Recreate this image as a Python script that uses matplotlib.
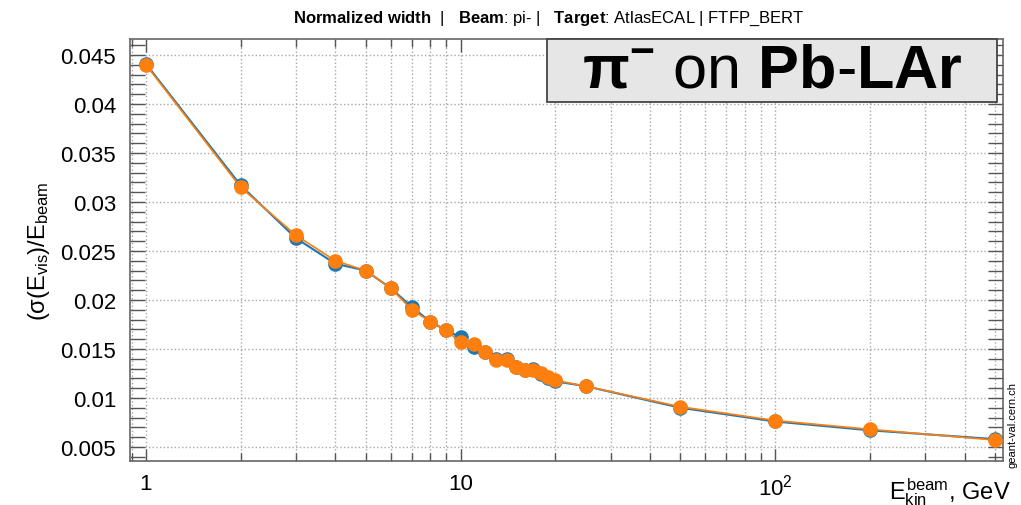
import matplotlib
matplotlib.use("Agg")
import matplotlib.pyplot as plt
from matplotlib.patches import Rectangle
from matplotlib.ticker import LogLocator, FixedLocator, MultipleLocator, FuncFormatter

plt.rcParams['font.family'] = ['Liberation Sans', 'DejaVu Sans']
plt.rcParams['mathtext.fontset'] = 'custom'
plt.rcParams['mathtext.rm'] = 'Liberation Sans'
plt.rcParams['mathtext.it'] = 'Liberation Sans'
plt.rcParams['mathtext.bf'] = 'Liberation Sans:bold'

# beam energies, GeV
energy = [1, 2, 3, 4, 5, 6, 7, 8, 9, 10, 11, 12, 13, 14, 15, 16, 17, 18, 19, 20,
          25, 50, 100, 200, 500]
# two series (blue drawn first, orange on top)
width_blue = [0.0441, 0.0317, 0.0263, 0.0237, 0.0230, 0.0212, 0.0193, 0.0178, 0.0169,
              0.0162, 0.0152, 0.0147, 0.0140, 0.0140, 0.0132, 0.0129, 0.0130, 0.0124,
              0.0120, 0.0117, 0.0112, 0.0090, 0.0076, 0.0067, 0.0058]
width_orange = [0.0440, 0.0315, 0.0266, 0.0240, 0.0230, 0.0212, 0.0190, 0.0178, 0.0169,
                0.0157, 0.0155, 0.0147, 0.0139, 0.0139, 0.0132, 0.0129, 0.0129, 0.0125,
                0.0121, 0.0118, 0.0112, 0.0091, 0.0077, 0.0068, 0.0057]
err_blue = [0.0003, 0.0001, 0.0001, 0.0001, 0.0001, 0.0001, 0.0001, 0.0001, 0.0001,
            0.0001, 0.0001, 0.0001, 0.0001, 0.0001, 0.0001, 0.0001, 0.0001, 0.0001,
            0.0001, 0.0001, 0.0001, 0.0001, 0.0001, 0.0001, 0.0001]
err_orange = [0.0003, 0.0001, 0.0001, 0.0001, 0.0001, 0.0001, 0.0001, 0.0001, 0.0001,
              0.0001, 0.0001, 0.0001, 0.0001, 0.0001, 0.0001, 0.0001, 0.0001, 0.0001,
              0.0001, 0.0001, 0.0001, 0.0001, 0.0001, 0.0001, 0.0001]
y_ticks = [0.005, 0.01, 0.015, 0.02, 0.025, 0.03, 0.035, 0.04, 0.045]
y_tick_labels = ['0.005', '0.01', '0.015', '0.02', '0.025', '0.03', '0.035', '0.04', '0.045']

fig = plt.figure(figsize=(10.21, 5.06), dpi=100)
ax = fig.add_axes([0.1273, 0.0870, 0.8551, 0.8339])

ax.errorbar(energy, width_blue, yerr=err_blue, color='#1f77b4', marker='o', ms=9.5,
            lw=1.5, elinewidth=1, capsize=0, zorder=3)
ax.errorbar(energy, width_orange, yerr=err_orange, color='#ff7f0e', marker='o', ms=9.5,
            lw=1.2, elinewidth=1, capsize=0, zorder=4)

ax.set_xscale('log')
ax.set_xlim(0.89, 530)
ax.set_ylim(0.00357, 0.04663)

ax.xaxis.set_major_locator(LogLocator(base=10, numticks=10))
ax.xaxis.set_minor_locator(LogLocator(base=10, subs=range(2, 10), numticks=20))
ax.xaxis.set_major_formatter(FuncFormatter(
    lambda v, p: {1: '1', 10: '10', 100: r'$10^2$'}.get(int(round(v)), '')))
ax.xaxis.set_minor_formatter(FuncFormatter(lambda v, p: ''))
ax.yaxis.set_major_locator(FixedLocator(y_ticks))
ax.set_yticklabels(y_tick_labels)
ax.yaxis.set_minor_locator(MultipleLocator(0.001))

ax.tick_params(axis='both', which='both', direction='in', top=True, right=True,
               colors='#555555', labelcolor='black', labelsize=16)
ax.tick_params(axis='y', which='both', length=11, width=1, pad=10)
ax.tick_params(axis='x', which='major', length=9, width=1, pad=9)
ax.tick_params(axis='x', which='minor', length=6, width=1)

ax.grid(True, which='major', axis='both', ls=':', color='#a8a8a8', lw=1)
ax.grid(True, which='minor', axis='x', ls=':', color='#a8a8a8', lw=1)
for s in ax.spines.values():
    s.set_color('#666666')
    s.set_linewidth(1.2)

fig.text(0.537, 0.963,
         r'$\mathbf{Normalized\ width}$  |   $\mathbf{Beam}$: pi- |   $\mathbf{Target}$: AtlasECAL | FTFP_BERT',
         ha='center', va='center', fontsize=12)

ax.set_ylabel(r'$(\sigma(E_{vis})/E_{beam}$', fontsize=17, labelpad=6)
fig.text(0.99, 0.028, r'$E_{kin}^{beam}$, GeV', ha='right', va='center', fontsize=17)
fig.text(0.992, 0.16, 'geant-val.cern.ch', rotation=90, ha='center', va='center',
         fontsize=8)

# label box in the top right corner
fig.patches.append(Rectangle((0.5358, 0.7964), 0.4407, 0.1245, transform=fig.transFigure,
                             fc='#e6e6e6', ec='#444444', lw=1.3, zorder=5))
fig.text(0.756, 0.857, r'$\mathbf{π}^{\mathbf{-}}$ on $\mathbf{Pb}$-$\mathbf{LAr}$',
         ha='center', va='center', fontsize=44, zorder=6)

fig.savefig('out.png', dpi=100)
